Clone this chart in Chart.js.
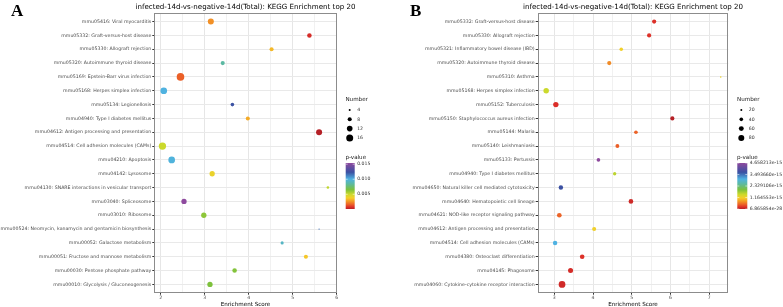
<!DOCTYPE html>
<html><head><meta charset="utf-8">
<script src="https://cdn.jsdelivr.net/npm/chart.js@4.4.0/dist/chart.umd.min.js"></script>
<style>
html,body{margin:0;padding:0;background:#fff;width:783px;height:307px;overflow:hidden}
.panel{position:absolute;top:0;height:307px}
#pa{left:0;width:391px}
#pb{left:391px;width:392px}
canvas{display:block}
</style></head><body>
<div class="panel" id="pa"><canvas id="ca" width="391" height="307"></canvas></div>
<div class="panel" id="pb"><canvas id="cb" width="392" height="307"></canvas></div>
<script>
// ---------------- DATA: panel A ----------------
const titleA = "infected-14d-vs-negative-14d(Total): KEGG Enrichment top 20";
const pathwaysA = [
"mmu05416: Viral myocarditis",
"mmu05332: Graft-versus-host disease",
"mmu05330: Allograft rejection",
"mmu05320: Autoimmune thyroid disease",
"mmu05169: Epstein-Barr virus infection",
"mmu05168: Herpes simplex infection",
"mmu05134: Legionellosis",
"mmu04940: Type I diabetes mellitus",
"mmu04612: Antigen processing and presentation",
"mmu04514: Cell adhesion molecules (CAMs)",
"mmu04210: Apoptosis",
"mmu04142: Lysosome",
"mmu04130: SNARE interactions in vesicular transport",
"mmu03040: Spliceosome",
"mmu03010: Ribosome",
"mmu00524: Neomycin, kanamycin and gentamicin biosynthesis",
"mmu00052: Galactose metabolism",
"mmu00051: Fructose and mannose metabolism",
"mmu00030: Pentose phosphate pathway",
"mmu00010: Glycolysis / Gluconeogenesis"];
const scoreA = [3.14,5.38,4.52,3.41,2.45,2.07,3.63,3.98,5.60,2.04,2.25,3.17,5.80,2.53,2.98,5.60,4.76,5.30,3.68,3.12];
const countA = [13,9,8,8,18,15,7,8,13,17,15,11,5,11,11,3,6,8,9,11];
const pvalueA = [0.0025,0.0006,0.0033,0.0085,0.0016,0.0100,0.0123,0.0030,0.0001,0.0050,0.0099,0.0041,0.0052,0.0154,0.0062,0.0116,0.0093,0.0036,0.0064,0.0065];
const xTicksA = [2,3,4,5,6];
const sizeBreaksA = [4,8,12,16];
const pBreaksA = [0.005,0.010,0.015];
const pLabelsA = ["0.005","0.010","0.015"];

// ---------------- DATA: panel B ----------------
const titleB = "infected-14d-vs-negative-14d(Total): KEGG Enrichment top 20";
const pathwaysB = [
"mmu05332: Graft-versus-host disease",
"mmu05330: Allograft rejection",
"mmu05321: Inflammatory bowel disease (IBD)",
"mmu05320: Autoimmune thyroid disease",
"mmu05310: Asthma",
"mmu05168: Herpes simplex infection",
"mmu05152: Tuberculosis",
"mmu05150: Staphylococcus aureus infection",
"mmu05144: Malaria",
"mmu05140: Leishmaniasis",
"mmu05133: Pertussis",
"mmu04940: Type I diabetes mellitus",
"mmu04650: Natural killer cell mediated cytotoxicity",
"mmu04640: Hematopoietic cell lineage",
"mmu04621: NOD-like receptor signaling pathway",
"mmu04612: Antigen processing and presentation",
"mmu04514: Cell adhesion molecules (CAMs)",
"mmu04380: Osteoclast differentiation",
"mmu04145: Phagosome",
"mmu04060: Cytokine-cytokine receptor interaction"];
const scoreB = [5.58,5.45,4.73,4.42,7.30,2.79,3.04,6.05,5.11,4.63,4.14,4.56,3.17,4.98,3.13,4.03,3.02,3.72,3.42,3.20];
const countB = [48,48,38,48,16,70,68,48,40,44,40,36,52,55,56,46,52,55,62,95];
const pvalueB = [1.9e-16,2.0e-16,1.15e-15,7.0e-16,1.2e-15,1.49e-15,1.8e-16,6.865854e-28,4.7e-16,4.5e-16,4.658213e-15,1.58e-15,3.73e-15,1.2e-16,4.8e-16,1.16e-15,3.03e-15,2.0e-16,1.5e-16,1.3e-16];
const xTicksB = [3,4,5,6,7];
const sizeBreaksB = [20,40,60,80];
const pBreaksB = [6.865854e-28,1.164553e-15,2.329106e-15,3.493660e-15,4.658213e-15];
const pLabelsB = ["6.865854e-28","1.164553e-15","2.329106e-15","3.493660e-15","4.658213e-15"];

// ---------------- styling ----------------
const FONT = '"DejaVu Sans", "Liberation Sans", sans-serif';
const gradStops = [[0,'#b52026'],[0.04,'#dc2f29'],[0.1,'#ec6228'],[0.17,'#f39b25'],[0.24,'#f5cf2a'],[0.32,'#cbd92c'],[0.42,'#7cc13c'],[0.55,'#5cb9a4'],[0.65,'#4fb2e2'],[0.8,'#3b50a2'],[1,'#8e4a9e']];
function hex2rgb(h){return [parseInt(h.slice(1,3),16),parseInt(h.slice(3,5),16),parseInt(h.slice(5,7),16)];}
function colorAt(t){
  t=Math.max(0,Math.min(1,t));
  for(let i=1;i<gradStops.length;i++){
    if(t<=gradStops[i][0]){
      const [t0,c0]=gradStops[i-1],[t1,c1]=gradStops[i];
      const f=(t-t0)/(t1-t0), a=hex2rgb(c0), b=hex2rgb(c1);
      return 'rgb('+a.map((v,k)=>Math.round(v+(b[k]-v)*f)).join(',')+')';
    }
  }
  return gradStops[gradStops.length-1][1];
}
function radius(n,s){return Math.max(0.6,(s.a+s.b*Math.sqrt(n))/2);}

function buildPanel(canvasId, P){
  const pmin=Math.min(...P.pvalues), pmax=Math.max(...P.pvalues);
  const pts=P.scores.map((x,i)=>({x:x,y:i+1,r:radius(P.counts[i],P.size)}));
  const cols=P.pvalues.map(p=>colorAt((p-pmin)/(pmax-pmin)));
  const allX=[];
  for(let v=Math.ceil(P.xmin*2)/2; v<=P.xmax+1e-9; v+=0.5) allX.push(+v.toFixed(2));
  const isMajor=v=>P.xTicks.indexOf(v)>=0;
  const deco={
    id:'deco',
    afterDraw(chart){
      const ctx=chart.ctx, ca=chart.chartArea;
      ctx.save();
      ctx.strokeStyle='#8c8c8c'; ctx.lineWidth=1;
      const l=Math.round(ca.left)+0.5,t=Math.round(ca.top)+0.5,r=Math.round(ca.right)-0.5,b=Math.round(ca.bottom)-0.5;
      ctx.strokeRect(l,t,r-l,b-t);
      // title
      ctx.fillStyle='#000'; ctx.textAlign='center'; ctx.textBaseline='alphabetic';
      ctx.font='7.1px '+FONT;
      ctx.fillText(P.title,(ca.left+ca.right)/2,9.2);
      ctx.font='5.6px '+FONT;
      ctx.fillText('Enrichment Score',(ca.left+ca.right)/2,306);
      // panel letter
      ctx.textAlign='left';
      ctx.font='bold 17px "Liberation Serif","DejaVu Serif",serif';
      ctx.fillText(P.letter,P.letterX,15.5);
      // size legend
      const R=ca.right;
      ctx.font='5.6px '+FONT; ctx.textBaseline='middle'; ctx.fillStyle='#1a1a1a';
      ctx.fillText('Number',R+8.7,100);
      ctx.font='4.6px '+FONT; ctx.fillStyle='#333';
      P.sizeBreaks.forEach((n,i)=>{
        const cy=110+i*9.3;
        ctx.beginPath(); ctx.fillStyle='#000';
        ctx.arc(R+13,cy,radius(n,P.size),0,Math.PI*2); ctx.fill();
        ctx.fillStyle='#333';
        ctx.fillText(String(n),R+20.5,cy);
      });
      // colour bar
      ctx.font='5.6px '+FONT; ctx.fillStyle='#1a1a1a';
      ctx.fillText('p-value',R+8.7,157.5);
      const bx=R+9, by=163, bh=46, bw=P.barW;
      const g=ctx.createLinearGradient(0,by+bh,0,by);
      gradStops.forEach(s=>g.addColorStop(s[0],s[1]));
      ctx.fillStyle=g; ctx.fillRect(bx,by,bw,bh);
      ctx.font='4.6px '+FONT; ctx.fillStyle='#333';
      P.pBreaks.forEach((v,i)=>{
        const y=by+bh-(v-pmin)/(pmax-pmin)*bh;
        ctx.strokeStyle='rgba(255,255,255,0.9)'; ctx.lineWidth=0.6;
        ctx.beginPath(); ctx.moveTo(bx,y); ctx.lineTo(bx+2,y); ctx.moveTo(bx+bw-2,y); ctx.lineTo(bx+bw,y); ctx.stroke();
        ctx.fillText(P.pLabels[i],bx+bw+2.5,y);
      });
      ctx.restore();
    }
  };
  return new Chart(document.getElementById(canvasId),{
    type:'bubble',
    data:{datasets:[{data:pts,backgroundColor:cols,borderWidth:0,hoverBorderWidth:0,hoverRadius:0}]},
    options:{
      responsive:false,animation:false,devicePixelRatio:1,
      layout:{padding:{left:0,top:P.top,right:P.padRight,bottom:0}},
      plugins:{legend:{display:false},tooltip:{enabled:false},title:{display:false}},
      scales:{
        x:{type:'linear',min:P.xmin,max:P.xmax,
          afterBuildTicks:s=>{s.ticks=allX.map(v=>({value:v}));},
          afterFit:s=>{s.height=P.xAxisH;},
          ticks:{autoSkip:false,maxRotation:0,padding:0.5,color:'#4d4d4d',font:{family:FONT,size:4.6},
            callback:v=>isMajor(v)?String(v):''},
          grid:{color:c=>(c.tick&&isMajor(c.tick.value))?'#e6e6e6':'#f1f1f1',lineWidth:1,drawTicks:true,tickLength:2,
            tickColor:c=>(c.tick&&isMajor(c.tick.value))?'#333':'rgba(0,0,0,0)'},
          border:{display:false}
        },
        y:{type:'linear',min:0.4,max:20.6,reverse:true,
          afterBuildTicks:s=>{s.ticks=P.names.map((n,i)=>({value:i+1}));},
          afterFit:s=>{s.width=P.yAxisW;},
          ticks:{autoSkip:false,padding:1,color:'#4d4d4d',font:{family:FONT,size:4.7},
            callback:v=>P.names[Math.round(v)-1]||''},
          grid:{color:'#e9e9e9',lineWidth:1,tickLength:2,tickColor:'#333'},
          border:{display:false}
        }
      }
    },
    plugins:[deco]
  });
}

buildPanel('ca',{title:titleA,letter:'A',letterX:11,names:pathwaysA,scores:scoreA,counts:countA,pvalues:pvalueA,
  xTicks:xTicksA,sizeBreaks:sizeBreaksA,pBreaks:pBreaksA,pLabels:pLabelsA,
  xmin:1.855,xmax:6.0,size:{a:-3,b:2.5},top:13.3,padRight:54.3,yAxisW:154.3,xAxisH:14.3,barW:9});
buildPanel('cb',{title:titleB,letter:'B',letterX:19,names:pathwaysB,scores:scoreB,counts:countB,pvalues:pvalueB,
  xTicks:xTicksB,sizeBreaks:sizeBreaksB,pBreaks:pBreaksB,pLabels:pLabelsB,
  xmin:2.571,xmax:7.496,size:{a:-2,b:0.894},top:13.3,padRight:54.7,yAxisW:146.7,xAxisH:14.3,barW:10});
</script>
</body></html>
